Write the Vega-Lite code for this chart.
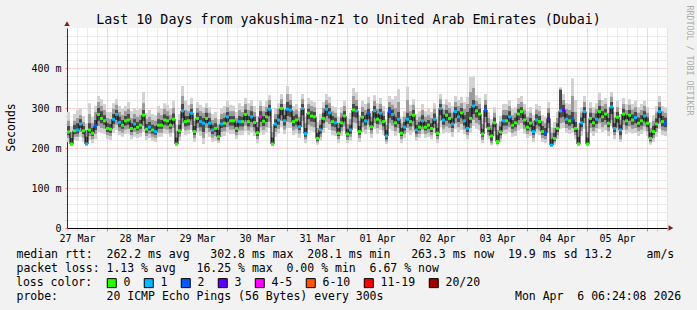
{
"$schema": "https://vega.github.io/schema/vega-lite/v6.json",
"width": 600,
"height": 200,
"autosize": {"type": "none"},
"padding": {"left": 67, "top": 28, "right": 30, "bottom": 82},
"background": "#f2f2f2",
"config": {
  "font": "DejaVu Sans Mono",
  "view": {"fill": "white", "stroke": null},
  "axis": {"titleFontWeight": "normal", "titleColor": "#000", "labelColor": "#000", "labelFont": "DejaVu Sans Mono", "titleFont": "DejaVu Sans Mono"},
  "legend": {"titleFontWeight": "normal"}
},
"datasets": {"ping": [
{"t":0,"m":240,"l":"0","a":215,"b":225,"c":232,"d":255,"e":268,"f":290},
{"t":1,"m":210,"l":"0","a":205,"b":207,"c":208,"d":225,"e":240,"f":255},
{"t":2,"m":243,"l":"0","a":220,"b":228,"c":235,"d":258,"e":268,"f":285},
{"t":3,"m":245,"l":"1","a":218,"b":228,"c":236,"d":262,"e":275,"f":295},
{"t":4,"m":260,"l":"1","a":228,"b":240,"c":250,"d":272,"e":282,"f":300},
{"t":5,"m":243,"l":"0","a":215,"b":226,"c":235,"d":255,"e":265,"f":280},
{"t":6,"m":210,"l":"1","a":206,"b":208,"c":209,"d":228,"e":245,"f":262},
{"t":7,"m":245,"l":"0","a":220,"b":230,"c":238,"d":262,"e":285,"f":312},
{"t":8,"m":237,"l":"0","a":212,"b":222,"c":230,"d":250,"e":262,"f":278},
{"t":9,"m":255,"l":"2","a":222,"b":235,"c":245,"d":270,"e":290,"f":305},
{"t":10,"m":284,"l":"0","a":240,"b":255,"c":268,"d":300,"e":315,"f":330},
{"t":11,"m":274,"l":"0","a":238,"b":250,"c":262,"d":292,"e":305,"f":322},
{"t":12,"m":268,"l":"0","a":235,"b":248,"c":258,"d":282,"e":295,"f":310},
{"t":13,"m":249,"l":"0","a":222,"b":232,"c":240,"d":262,"e":275,"f":290},
{"t":14,"m":247,"l":"0","a":220,"b":230,"c":238,"d":260,"e":272,"f":290},
{"t":15,"m":272,"l":"1","a":238,"b":250,"c":260,"d":285,"e":298,"f":312},
{"t":16,"m":284,"l":"1","a":245,"b":258,"c":270,"d":295,"e":308,"f":322},
{"t":17,"m":264,"l":"1","a":232,"b":242,"c":252,"d":278,"e":290,"f":305},
{"t":18,"m":257,"l":"0","a":228,"b":238,"c":248,"d":270,"e":282,"f":298},
{"t":19,"m":268,"l":"0","a":235,"b":246,"c":256,"d":280,"e":292,"f":305},
{"t":20,"m":270,"l":"0","a":236,"b":248,"c":258,"d":285,"e":298,"f":315},
{"t":21,"m":249,"l":"0","a":222,"b":232,"c":240,"d":262,"e":275,"f":292},
{"t":22,"m":260,"l":"1","a":228,"b":240,"c":250,"d":272,"e":285,"f":300},
{"t":23,"m":252,"l":"0","a":225,"b":235,"c":244,"d":265,"e":278,"f":295},
{"t":24,"m":257,"l":"0","a":228,"b":238,"c":248,"d":270,"e":282,"f":298},
{"t":25,"m":282,"l":"0","a":240,"b":255,"c":268,"d":295,"e":312,"f":340},
{"t":26,"m":247,"l":"0","a":220,"b":230,"c":238,"d":260,"e":272,"f":288},
{"t":27,"m":252,"l":"1","a":225,"b":235,"c":244,"d":265,"e":278,"f":295},
{"t":28,"m":245,"l":"0","a":218,"b":228,"c":236,"d":258,"e":270,"f":285},
{"t":29,"m":241,"l":"1","a":215,"b":225,"c":233,"d":255,"e":268,"f":282},
{"t":30,"m":257,"l":"0","a":228,"b":238,"c":248,"d":272,"e":288,"f":305},
{"t":31,"m":257,"l":"0","a":228,"b":238,"c":248,"d":270,"e":282,"f":298},
{"t":32,"m":270,"l":"0","a":236,"b":248,"c":258,"d":284,"e":298,"f":312},
{"t":33,"m":268,"l":"0","a":235,"b":246,"c":256,"d":280,"e":292,"f":308},
{"t":34,"m":257,"l":"0","a":228,"b":238,"c":248,"d":270,"e":282,"f":298},
{"t":35,"m":272,"l":"0","a":238,"b":250,"c":260,"d":286,"e":300,"f":318},
{"t":36,"m":210,"l":"0","a":205,"b":207,"c":208,"d":226,"e":242,"f":258},
{"t":37,"m":243,"l":"0","a":218,"b":228,"c":236,"d":258,"e":270,"f":285},
{"t":38,"m":293,"l":"1","a":248,"b":262,"c":275,"d":310,"e":330,"f":355},
{"t":39,"m":266,"l":"0","a":232,"b":244,"c":254,"d":280,"e":295,"f":318},
{"t":40,"m":268,"l":"0","a":235,"b":246,"c":256,"d":280,"e":292,"f":308},
{"t":41,"m":287,"l":"1","a":245,"b":258,"c":272,"d":298,"e":310,"f":325},
{"t":42,"m":241,"l":"0","a":215,"b":225,"c":233,"d":255,"e":268,"f":282},
{"t":43,"m":274,"l":"0","a":238,"b":250,"c":262,"d":288,"e":300,"f":315},
{"t":44,"m":266,"l":"1","a":230,"b":242,"c":252,"d":280,"e":292,"f":308},
{"t":45,"m":262,"l":"1","a":210,"b":225,"c":240,"d":275,"e":288,"f":302},
{"t":46,"m":274,"l":"0","a":236,"b":250,"c":262,"d":288,"e":300,"f":312},
{"t":47,"m":262,"l":"1","a":228,"b":240,"c":250,"d":275,"e":288,"f":302},
{"t":48,"m":245,"l":"1","a":215,"b":226,"c":235,"d":258,"e":270,"f":285},
{"t":49,"m":249,"l":"0","a":218,"b":230,"c":240,"d":262,"e":275,"f":290},
{"t":50,"m":228,"l":"0","a":212,"b":218,"c":222,"d":245,"e":258,"f":272},
{"t":51,"m":260,"l":"1","a":228,"b":240,"c":250,"d":272,"e":285,"f":300},
{"t":52,"m":262,"l":"0","a":230,"b":242,"c":252,"d":275,"e":288,"f":305},
{"t":53,"m":278,"l":"1","a":240,"b":252,"c":265,"d":290,"e":302,"f":318},
{"t":54,"m":268,"l":"0","a":235,"b":246,"c":256,"d":280,"e":292,"f":308},
{"t":55,"m":268,"l":"0","a":235,"b":246,"c":256,"d":280,"e":292,"f":306},
{"t":56,"m":249,"l":"0","a":222,"b":232,"c":240,"d":262,"e":275,"f":290},
{"t":57,"m":266,"l":"1","a":232,"b":244,"c":254,"d":280,"e":295,"f":312},
{"t":58,"m":266,"l":"0","a":232,"b":244,"c":254,"d":278,"e":290,"f":305},
{"t":59,"m":284,"l":"0","a":242,"b":256,"c":270,"d":296,"e":310,"f":325},
{"t":60,"m":266,"l":"0","a":232,"b":244,"c":254,"d":280,"e":295,"f":312},
{"t":61,"m":278,"l":"1","a":240,"b":252,"c":265,"d":292,"e":305,"f":320},
{"t":62,"m":264,"l":"0","a":230,"b":242,"c":252,"d":278,"e":290,"f":305},
{"t":63,"m":238,"l":"0","a":212,"b":222,"c":230,"d":252,"e":265,"f":280},
{"t":64,"m":278,"l":"4-5","a":240,"b":252,"c":265,"d":292,"e":305,"f":318},
{"t":65,"m":267,"l":"0","a":233,"b":245,"c":255,"d":280,"e":292,"f":305},
{"t":66,"m":278,"l":"0","a":240,"b":252,"c":265,"d":290,"e":302,"f":318},
{"t":67,"m":297,"l":"1","a":250,"b":265,"c":280,"d":308,"e":320,"f":332},
{"t":68,"m":210,"l":"0","a":205,"b":207,"c":208,"d":226,"e":240,"f":255},
{"t":69,"m":260,"l":"1","a":228,"b":240,"c":250,"d":272,"e":285,"f":300},
{"t":70,"m":270,"l":"1","a":236,"b":248,"c":258,"d":284,"e":298,"f":312},
{"t":71,"m":299,"l":"0","a":252,"b":268,"c":282,"d":310,"e":322,"f":335},
{"t":72,"m":268,"l":"1","a":235,"b":246,"c":256,"d":282,"e":295,"f":310},
{"t":73,"m":297,"l":"1","a":250,"b":265,"c":280,"d":315,"e":335,"f":355},
{"t":74,"m":295,"l":"1","a":250,"b":264,"c":278,"d":308,"e":320,"f":335},
{"t":75,"m":266,"l":"0","a":232,"b":244,"c":254,"d":280,"e":292,"f":305},
{"t":76,"m":270,"l":"0","a":236,"b":248,"c":258,"d":284,"e":296,"f":310},
{"t":77,"m":253,"l":"1","a":225,"b":236,"c":245,"d":266,"e":278,"f":292},
{"t":78,"m":299,"l":"1","a":252,"b":268,"c":282,"d":310,"e":322,"f":335},
{"t":79,"m":236,"l":"1","a":212,"b":222,"c":228,"d":250,"e":262,"f":278},
{"t":80,"m":287,"l":"0","a":245,"b":258,"c":272,"d":298,"e":310,"f":325},
{"t":81,"m":280,"l":"0","a":242,"b":254,"c":266,"d":292,"e":305,"f":318},
{"t":82,"m":278,"l":"0","a":240,"b":252,"c":265,"d":290,"e":302,"f":315},
{"t":83,"m":224,"l":"0","a":208,"b":214,"c":218,"d":238,"e":250,"f":265},
{"t":84,"m":245,"l":"1","a":218,"b":228,"c":236,"d":258,"e":270,"f":285},
{"t":85,"m":274,"l":"0","a":238,"b":250,"c":262,"d":288,"e":300,"f":315},
{"t":86,"m":297,"l":"1","a":250,"b":265,"c":280,"d":308,"e":320,"f":335},
{"t":87,"m":288,"l":"1","a":245,"b":260,"c":274,"d":300,"e":312,"f":328},
{"t":88,"m":266,"l":"0","a":232,"b":244,"c":254,"d":280,"e":292,"f":305},
{"t":89,"m":263,"l":"1","a":230,"b":242,"c":252,"d":276,"e":288,"f":302},
{"t":90,"m":237,"l":"0","a":212,"b":222,"c":230,"d":250,"e":262,"f":278},
{"t":91,"m":263,"l":"0","a":230,"b":242,"c":252,"d":276,"e":288,"f":302},
{"t":92,"m":280,"l":"0","a":242,"b":254,"c":266,"d":292,"e":305,"f":318},
{"t":93,"m":235,"l":"0","a":212,"b":220,"c":228,"d":248,"e":260,"f":275},
{"t":94,"m":245,"l":"1","a":218,"b":228,"c":236,"d":258,"e":272,"f":288},
{"t":95,"m":295,"l":"0","a":250,"b":264,"c":278,"d":310,"e":330,"f":350},
{"t":96,"m":293,"l":"1","a":248,"b":262,"c":276,"d":305,"e":320,"f":340},
{"t":97,"m":241,"l":"0","a":215,"b":225,"c":233,"d":255,"e":268,"f":282},
{"t":98,"m":277,"l":"0","a":240,"b":252,"c":264,"d":290,"e":302,"f":318},
{"t":99,"m":268,"l":"1","a":235,"b":246,"c":256,"d":282,"e":295,"f":310},
{"t":100,"m":287,"l":"2","a":245,"b":258,"c":272,"d":298,"e":312,"f":328},
{"t":101,"m":253,"l":"0","a":225,"b":236,"c":245,"d":266,"e":278,"f":292},
{"t":102,"m":293,"l":"1","a":248,"b":262,"c":276,"d":305,"e":318,"f":332},
{"t":103,"m":272,"l":"0","a":236,"b":250,"c":260,"d":285,"e":298,"f":312},
{"t":104,"m":287,"l":"1","a":245,"b":258,"c":272,"d":298,"e":310,"f":325},
{"t":105,"m":266,"l":"0","a":232,"b":244,"c":254,"d":280,"e":292,"f":305},
{"t":106,"m":230,"l":"1","a":210,"b":216,"c":222,"d":245,"e":258,"f":272},
{"t":107,"m":291,"l":"2","a":248,"b":262,"c":275,"d":302,"e":315,"f":330},
{"t":108,"m":284,"l":"1","a":242,"b":256,"c":270,"d":296,"e":308,"f":322},
{"t":109,"m":263,"l":"0","a":230,"b":242,"c":252,"d":278,"e":300,"f":330},
{"t":110,"m":272,"l":"1","a":238,"b":250,"c":260,"d":290,"e":315,"f":347},
{"t":111,"m":237,"l":"0","a":212,"b":222,"c":230,"d":250,"e":262,"f":278},
{"t":112,"m":252,"l":"1","a":225,"b":235,"c":244,"d":265,"e":278,"f":292},
{"t":113,"m":272,"l":"1","a":238,"b":250,"c":260,"d":288,"e":320,"f":353},
{"t":114,"m":266,"l":"0","a":232,"b":244,"c":254,"d":280,"e":292,"f":308},
{"t":115,"m":282,"l":"0","a":240,"b":254,"c":268,"d":295,"e":308,"f":322},
{"t":116,"m":245,"l":"1","a":218,"b":228,"c":236,"d":258,"e":270,"f":285},
{"t":117,"m":252,"l":"0","a":225,"b":235,"c":244,"d":265,"e":278,"f":292},
{"t":118,"m":268,"l":"1","a":235,"b":246,"c":256,"d":282,"e":295,"f":310},
{"t":119,"m":252,"l":"0","a":225,"b":235,"c":244,"d":265,"e":278,"f":292},
{"t":120,"m":257,"l":"0","a":228,"b":238,"c":248,"d":270,"e":282,"f":298},
{"t":121,"m":249,"l":"0","a":222,"b":232,"c":240,"d":262,"e":275,"f":290},
{"t":122,"m":272,"l":"1","a":238,"b":250,"c":260,"d":286,"e":298,"f":312},
{"t":123,"m":237,"l":"0","a":212,"b":222,"c":230,"d":250,"e":262,"f":278},
{"t":124,"m":299,"l":"1","a":252,"b":268,"c":282,"d":310,"e":322,"f":335},
{"t":125,"m":270,"l":"1","a":236,"b":248,"c":258,"d":284,"e":296,"f":310},
{"t":126,"m":282,"l":"0","a":240,"b":254,"c":268,"d":295,"e":308,"f":322},
{"t":127,"m":274,"l":"0","a":238,"b":250,"c":262,"d":288,"e":300,"f":315},
{"t":128,"m":260,"l":"1","a":228,"b":240,"c":250,"d":274,"e":288,"f":305},
{"t":129,"m":291,"l":"1","a":248,"b":262,"c":275,"d":302,"e":315,"f":330},
{"t":130,"m":278,"l":"1","a":240,"b":252,"c":265,"d":292,"e":305,"f":320},
{"t":131,"m":288,"l":"0","a":245,"b":260,"c":274,"d":300,"e":312,"f":328},
{"t":132,"m":268,"l":"1","a":235,"b":246,"c":256,"d":282,"e":298,"f":315},
{"t":133,"m":249,"l":"1","a":222,"b":232,"c":240,"d":290,"e":310,"f":328},
{"t":134,"m":274,"l":"0","a":238,"b":250,"c":262,"d":300,"e":340,"f":378},
{"t":135,"m":305,"l":"1","a":255,"b":270,"c":285,"d":320,"e":350,"f":378},
{"t":136,"m":293,"l":"0","a":248,"b":262,"c":276,"d":305,"e":318,"f":332},
{"t":137,"m":285,"l":"0","a":244,"b":258,"c":270,"d":298,"e":310,"f":325},
{"t":138,"m":235,"l":"0","a":212,"b":220,"c":228,"d":248,"e":260,"f":275},
{"t":139,"m":295,"l":"2","a":250,"b":264,"c":278,"d":308,"e":320,"f":335},
{"t":140,"m":249,"l":"0","a":222,"b":232,"c":240,"d":262,"e":275,"f":290},
{"t":141,"m":230,"l":"0","a":207,"b":212,"c":218,"d":245,"e":258,"f":272},
{"t":142,"m":263,"l":"0","a":230,"b":242,"c":252,"d":276,"e":288,"f":302},
{"t":143,"m":216,"l":"0","a":206,"b":210,"c":212,"d":232,"e":245,"f":260},
{"t":144,"m":240,"l":"0","a":214,"b":224,"c":232,"d":254,"e":266,"f":280},
{"t":145,"m":268,"l":"1","a":235,"b":246,"c":256,"d":282,"e":295,"f":310},
{"t":146,"m":268,"l":"0","a":235,"b":246,"c":256,"d":282,"e":295,"f":310},
{"t":147,"m":278,"l":"1","a":240,"b":252,"c":265,"d":292,"e":305,"f":320},
{"t":148,"m":257,"l":"0","a":228,"b":238,"c":248,"d":270,"e":282,"f":298},
{"t":149,"m":263,"l":"0","a":230,"b":242,"c":252,"d":276,"e":288,"f":302},
{"t":150,"m":285,"l":"0","a":244,"b":258,"c":270,"d":298,"e":310,"f":325},
{"t":151,"m":291,"l":"0","a":248,"b":262,"c":275,"d":302,"e":315,"f":330},
{"t":152,"m":270,"l":"0","a":236,"b":248,"c":258,"d":284,"e":296,"f":310},
{"t":153,"m":252,"l":"0","a":225,"b":235,"c":244,"d":265,"e":278,"f":292},
{"t":154,"m":262,"l":"0","a":230,"b":242,"c":252,"d":275,"e":288,"f":302},
{"t":155,"m":241,"l":"1","a":215,"b":225,"c":233,"d":255,"e":268,"f":282},
{"t":156,"m":270,"l":"1","a":236,"b":248,"c":258,"d":284,"e":296,"f":310},
{"t":157,"m":266,"l":"0","a":232,"b":244,"c":254,"d":280,"e":292,"f":305},
{"t":158,"m":241,"l":"0","a":215,"b":225,"c":233,"d":255,"e":268,"f":282},
{"t":159,"m":237,"l":"2","a":212,"b":222,"c":230,"d":250,"e":262,"f":278},
{"t":160,"m":274,"l":"3","a":238,"b":250,"c":262,"d":288,"e":300,"f":315},
{"t":161,"m":207,"l":"1","a":204,"b":206,"c":206,"d":222,"e":238,"f":252},
{"t":162,"m":224,"l":"0","a":208,"b":214,"c":218,"d":238,"e":250,"f":265},
{"t":163,"m":249,"l":"0","a":222,"b":232,"c":240,"d":262,"e":275,"f":290},
{"t":164,"m":293,"l":"1","a":248,"b":262,"c":276,"d":345,"e":348,"f":352},
{"t":165,"m":295,"l":"3","a":250,"b":264,"c":278,"d":308,"e":320,"f":335},
{"t":166,"m":272,"l":"1","a":238,"b":250,"c":260,"d":286,"e":298,"f":312},
{"t":167,"m":268,"l":"0","a":235,"b":246,"c":256,"d":282,"e":295,"f":310},
{"t":168,"m":272,"l":"2","a":238,"b":250,"c":260,"d":290,"e":330,"f":374},
{"t":169,"m":249,"l":"0","a":222,"b":232,"c":240,"d":265,"e":290,"f":320},
{"t":170,"m":210,"l":"0","a":205,"b":207,"c":208,"d":228,"e":245,"f":262},
{"t":171,"m":263,"l":"1","a":230,"b":242,"c":252,"d":276,"e":288,"f":302},
{"t":172,"m":291,"l":"1","a":248,"b":262,"c":275,"d":302,"e":315,"f":330},
{"t":173,"m":210,"l":"0","a":205,"b":207,"c":208,"d":226,"e":240,"f":255},
{"t":174,"m":274,"l":"0","a":238,"b":250,"c":262,"d":288,"e":300,"f":315},
{"t":175,"m":263,"l":"0","a":230,"b":242,"c":252,"d":276,"e":288,"f":302},
{"t":176,"m":272,"l":"1","a":238,"b":250,"c":260,"d":286,"e":298,"f":312},
{"t":177,"m":291,"l":"0","a":248,"b":262,"c":275,"d":305,"e":320,"f":338},
{"t":178,"m":278,"l":"0","a":240,"b":252,"c":265,"d":292,"e":305,"f":320},
{"t":179,"m":285,"l":"0","a":244,"b":258,"c":270,"d":298,"e":310,"f":325},
{"t":180,"m":262,"l":"0","a":230,"b":242,"c":252,"d":275,"e":288,"f":302},
{"t":181,"m":303,"l":"1","a":255,"b":270,"c":285,"d":315,"e":328,"f":340},
{"t":182,"m":249,"l":"1","a":222,"b":232,"c":240,"d":262,"e":275,"f":290},
{"t":183,"m":277,"l":"0","a":240,"b":252,"c":264,"d":290,"e":302,"f":318},
{"t":184,"m":245,"l":"1","a":215,"b":222,"c":232,"d":258,"e":270,"f":285},
{"t":185,"m":285,"l":"0","a":244,"b":258,"c":270,"d":298,"e":310,"f":325},
{"t":186,"m":268,"l":"0","a":235,"b":246,"c":256,"d":282,"e":295,"f":310},
{"t":187,"m":282,"l":"0","a":240,"b":254,"c":268,"d":295,"e":308,"f":322},
{"t":188,"m":270,"l":"0","a":236,"b":248,"c":258,"d":284,"e":296,"f":310},
{"t":189,"m":276,"l":"1","a":238,"b":250,"c":262,"d":290,"e":302,"f":318},
{"t":190,"m":262,"l":"0","a":230,"b":242,"c":252,"d":276,"e":288,"f":302},
{"t":191,"m":268,"l":"0","a":235,"b":246,"c":256,"d":282,"e":295,"f":310},
{"t":192,"m":280,"l":"1","a":242,"b":254,"c":266,"d":292,"e":305,"f":318},
{"t":193,"m":262,"l":"0","a":230,"b":242,"c":252,"d":276,"e":288,"f":302},
{"t":194,"m":224,"l":"0","a":208,"b":214,"c":218,"d":238,"e":250,"f":265},
{"t":195,"m":241,"l":"0","a":215,"b":225,"c":233,"d":255,"e":268,"f":282},
{"t":196,"m":260,"l":"0","a":228,"b":240,"c":250,"d":274,"e":288,"f":305},
{"t":197,"m":291,"l":"1","a":248,"b":262,"c":275,"d":302,"e":315,"f":330},
{"t":198,"m":266,"l":"0","a":232,"b":244,"c":254,"d":280,"e":292,"f":305},
{"t":199,"m":262,"l":"2","a":230,"b":242,"c":252,"d":276,"e":288,"f":302}
]},
"data": {"name": "ping"},
"layer": [
  {
    "transform": [{"calculate": "datum.t - 0.5", "as": "t0"}, {"calculate": "datum.t + 0.5", "as": "t1"}],
    "mark": {"type": "rect", "color": "#d2d2d2"},
    "encoding": {
      "x": {"field": "t0", "type": "quantitative",
        "scale": {"domain": [-0.5, 199.5], "nice": false, "zero": false},
        "axis": {
          "values": [-0.5,2.8333,6.1667,9.5,12.8333,16.1667,19.5,22.8333,26.1667,29.5,32.8333,36.1667,39.5,42.8333,46.1667,49.5,52.8333,56.1667,59.5,62.8333,66.1667,69.5,72.8333,76.1667,79.5,82.8333,86.1667,89.5,92.8333,96.1667,99.5,102.8333,106.1667,109.5,112.8333,116.1667,119.5,122.8333,126.1667,129.5,132.8333,136.1667,139.5,142.8333,146.1667,149.5,152.8333,156.1667,159.5,162.8333,166.1667,169.5,172.8333,176.1667,179.5,182.8333,186.1667,189.5,192.8333,196.1667,199.5],
          "labelExpr": "abs((datum.value - 2.8333) / 20 - round((datum.value - 2.8333) / 20)) < 0.001 ? ['27 Mar','28 Mar','29 Mar','30 Mar','31 Mar','01 Apr','02 Apr','03 Apr','04 Apr','05 Apr'][round((datum.value - 2.8333) / 20)] : ''",
          "labelFontSize": 10, "labelAngle": 0, "labelAlign": "center", "labelBaseline": "top", "labelPadding": 2,
          "labelOverlap": false, "labelFlush": false, "labelBound": false,
          "tickSize": 3,
          "tickColor": {"condition": {"test": "abs((datum.value - 12.8333) / 20 - round((datum.value - 12.8333) / 20)) < 0.001", "value": "#ff7070"}, "value": "#d0d0d0"},
          "grid": true,
          "gridColor": {"condition": {"test": "abs((datum.value - 12.8333) / 20 - round((datum.value - 12.8333) / 20)) < 0.001", "value": "#eeaaaa"}, "value": "#d8d8d8"},
          "gridDash": [1, 1],
          "domainColor": "#000",
          "title": ["median\u00a0rtt:\u00a0\u00a0262.2\u00a0ms\u00a0avg\u00a0\u00a0\u00a0302.8\u00a0ms\u00a0max\u00a0\u00a0208.1\u00a0ms\u00a0min\u00a0\u00a0\u00a0263.3\u00a0ms\u00a0now\u00a0\u00a019.9\u00a0ms\u00a0sd\u00a013.2\u00a0\u00a0\u00a0\u00a0\u00a0am/s",
                    "packet\u00a0loss:\u00a01.13\u00a0%\u00a0avg\u00a0\u00a0\u00a016.25\u00a0%\u00a0max\u00a0\u00a00.00\u00a0%\u00a0min\u00a0\u00a06.67\u00a0%\u00a0now"],
          "titleFontSize": 11.5, "titleAlign": "left", "titleAnchor": "start", "titleBaseline": "top",
          "titleX": -51, "titleY": 20, "titleLineHeight": 14
        }
      },
      "x2": {"field": "t1"},
      "y": {"field": "a", "type": "quantitative",
        "scale": {"domain": [0, 500], "nice": false, "zero": true},
        "axis": {
          "values": [0,20,40,60,80,100,120,140,160,180,200,220,240,260,280,300,320,340,360,380,400,420,440,460,480],
          "labelExpr": "datum.value % 100 == 0 ? (datum.value == 0 ? '0' : datum.value + ' m') : ''",
          "labelFontSize": 10, "labelPadding": 4, "labelOverlap": false, "labelBound": false, "labelFlush": false,
          "tickSize": 2,
          "tickColor": {"condition": {"test": "datum.value % 100 == 0", "value": "#ff7070"}, "value": "#d0d0d0"},
          "grid": true,
          "gridColor": {"condition": {"test": "datum.value % 100 == 0", "value": "#eeaaaa"}, "value": "#d8d8d8"},
          "gridDash": [1, 1],
          "domainColor": "#333",
          "title": "Seconds", "titleFontSize": 11.5, "titleAngle": -90, "titleAlign": "center", "titleBaseline": "middle",
          "titleX": -56, "titleY": 99
        }
      },
      "y2": {"field": "f"}
    }
  },
  {
    "transform": [{"calculate": "datum.t - 0.5", "as": "t0"}, {"calculate": "datum.t + 0.5", "as": "t1"}],
    "mark": {"type": "rect", "color": "#9c9c9c"},
    "encoding": {
      "x": {"field": "t0", "type": "quantitative",
        "scale": {"domain": [-0.5, 199.5], "nice": false, "zero": false},
        "axis": {"orient": "top", "labels": false, "ticks": false, "domain": false, "grid": false,
          "title": "Last 10 Days from yakushima-nz1 to United Arab Emirates (Dubai)",
          "titleFontSize": 13.3, "titleAlign": "center", "titleBaseline": "middle", "titleX": 281, "titleY": -9}
      },
      "x2": {"field": "t1"},
      "y": {"field": "b", "type": "quantitative", "scale": {"domain": [0, 500], "nice": false, "zero": true}, "axis": null},
      "y2": {"field": "e"}
    }
  },
  {
    "transform": [{"calculate": "datum.t - 0.5", "as": "t0"}, {"calculate": "datum.t + 0.5", "as": "t1"}],
    "mark": {"type": "rect", "color": "#4a4a4a"},
    "encoding": {
      "x": {"field": "t0", "type": "quantitative",
        "scale": {"domain": [-0.5, 199.5], "nice": false, "zero": false},
        "axis": {"orient": "bottom", "labels": false, "ticks": false, "domain": false, "grid": false,
          "title": "probe:\u00a0\u00a0\u00a0\u00a0\u00a0\u00a0\u00a020\u00a0ICMP\u00a0Echo\u00a0Pings\u00a0(56\u00a0Bytes)\u00a0every\u00a0300s\u00a0\u00a0\u00a0\u00a0\u00a0\u00a0\u00a0\u00a0\u00a0\u00a0\u00a0\u00a0\u00a0\u00a0\u00a0\u00a0\u00a0\u00a0\u00a0Mon\u00a0Apr\u00a0\u00a06\u00a006:24:08\u00a02026",
          "titleFontSize": 11.5, "titleAlign": "left", "titleAnchor": "start", "titleBaseline": "top",
          "titleX": -51, "titleY": 62}
      },
      "x2": {"field": "t1"},
      "y": {"field": "c", "type": "quantitative",
        "scale": {"domain": [0, 500], "nice": false, "zero": true},
        "axis": {"orient": "right", "labels": false, "ticks": false, "domain": false, "grid": false,
          "title": "RRDTOOL / TOBI OETIKER", "titleFontSize": 8.3, "titleColor": "#aaaaaa",
          "titleAngle": 90, "titleAlign": "center", "titleBaseline": "middle", "titleX": 21, "titleY": 32}
      },
      "y2": {"field": "d"}
    }
  },
  {
    "mark": {"type": "line", "interpolate": "step", "color": "#000", "strokeWidth": 1},
    "encoding": {
      "x": {"field": "t", "type": "quantitative", "scale": {"domain": [-0.5, 199.5], "nice": false, "zero": false}, "axis": null},
      "y": {"field": "m", "type": "quantitative", "scale": {"domain": [0, 500], "nice": false, "zero": true}, "axis": null}
    }
  },
  {
    "mark": {"type": "point", "shape": "square", "filled": true, "size": 9, "opacity": 1},
    "encoding": {
      "x": {"field": "t", "type": "quantitative", "scale": {"domain": [-0.5, 199.5], "nice": false, "zero": false}, "axis": null},
      "y": {"field": "m", "type": "quantitative", "scale": {"domain": [0, 500], "nice": false, "zero": true}, "axis": null},
      "color": {"field": "l", "type": "nominal",
        "scale": {"domain": ["0","1","2","3","4-5","6-10","11-19","20/20"],
                  "range": ["#26ff00","#00b8ff","#0059ff","#5e00ff","#ff00ff","#ff5500","#ff0000","#a10000"]},
        "legend": {"orient": "none", "legendX": -51, "legendY": 249, "direction": "horizontal", "columns": 8,
          "title": "loss color:", "titleOrient": "left", "titleFont": "DejaVu Sans Mono", "titleFontSize": 11.5, "titleFontWeight": "normal", "titleColor": "#000", "titlePadding": 13,
          "labelFont": "DejaVu Sans Mono", "labelFontSize": 11.5, "labelColor": "#000", "labelOffset": 6,
          "symbolType": "square", "symbolSize": 81, "symbolStrokeColor": "#000", "symbolStrokeWidth": 1, "symbolOpacity": 1,
          "columnPadding": 11, "padding": 0,
          "encode": {"symbols": {"update": {"stroke": {"value": "#000"}, "strokeWidth": {"value": 1}}}}
        }
      }
    }
  },
  {
    "data": {"values": [{}]},
    "mark": {"type": "point", "shape": "triangle-right", "filled": true, "size": 30, "color": "#8b1a1a", "opacity": 1},
    "encoding": {
      "x": {"datum": 200.8, "type": "quantitative", "scale": {"domain": [-0.5, 199.5], "nice": false, "zero": false}, "axis": null},
      "y": {"datum": 0, "type": "quantitative", "scale": {"domain": [0, 500], "nice": false, "zero": true}, "axis": null}
    }
  },
  {
    "data": {"values": [{}]},
    "mark": {"type": "point", "shape": "triangle-up", "filled": true, "size": 30, "color": "#8b1a1a", "opacity": 1},
    "encoding": {
      "x": {"datum": -0.5, "type": "quantitative", "scale": {"domain": [-0.5, 199.5], "nice": false, "zero": false}, "axis": null},
      "y": {"datum": 511, "type": "quantitative", "scale": {"domain": [0, 500], "nice": false, "zero": true}, "axis": null}
    }
  }
],
"resolve": {"axis": {"x": "independent", "y": "independent"}}
}
